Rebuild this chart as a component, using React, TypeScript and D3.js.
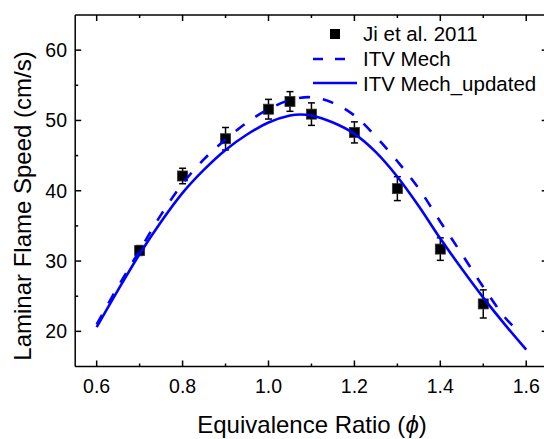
import React from "react";
import * as d3 from "d3";

// Experimental data (Ji et al. 2011)
const expPhi = [0.7, 0.8, 0.9, 1.0, 1.05, 1.1, 1.2, 1.3, 1.4, 1.5];
const expSpeed = [31.5, 42.1, 47.4, 51.6, 52.7, 50.9, 48.3, 40.3, 31.7, 23.9];
const expErr = [0.7, 1.1, 1.6, 1.4, 1.4, 1.6, 1.5, 1.7, 1.6, 2.0];

// ITV Mech (dashed)
const mechPhi = [0.6, 0.65, 0.7, 0.75, 0.8, 0.85, 0.9, 0.95, 1.0, 1.05, 1.1, 1.15, 1.2, 1.25, 1.3, 1.35, 1.4, 1.45, 1.5, 1.55, 1.575];
const mechSpeed = [21.0, 26.4, 31.5, 36.6, 41.0, 44.5, 47.3, 49.7, 51.6, 52.9, 53.3, 52.5, 50.7, 47.7, 44.2, 40.3, 35.6, 31.0, 26.3, 22.0, 20.4];

// ITV Mech_updated (solid)
const updPhi = [0.6, 0.65, 0.7, 0.75, 0.8, 0.85, 0.9, 0.95, 1.0, 1.05, 1.075, 1.1, 1.15, 1.2, 1.25, 1.3, 1.35, 1.4, 1.45, 1.5, 1.55, 1.6];
const updSpeed = [20.6, 25.9, 31.0, 35.6, 39.7, 43.0, 45.8, 48.0, 49.7, 50.7, 50.85, 50.7, 49.7, 48.1, 45.5, 42.0, 37.8, 33.2, 28.9, 24.8, 21.0, 17.4];

const xTicks = [0.6, 0.8, 1.0, 1.2, 1.4, 1.6];
const xMinor = [0.7, 0.9, 1.1, 1.3, 1.5];
const yTicks = [20, 30, 40, 50, 60];
const yMinor = [25, 35, 45, 55];

const legendLabels = ["Ji et al. 2011", "ITV Mech", "ITV Mech_updated"];

const W = 544;
const H = 439;
const FONT = "'Liberation Sans', Arial, Helvetica, sans-serif";
const BLUE = "#0000ff";

export default function App() {
  const x = d3.scaleLinear().domain([0.55, 1.65]).range([75.2, 547.7]);
  const y = d3.scaleLinear().domain([15, 65]).range([366.5, 15]);
  const [x0, x1] = x.range();
  const [y0, y1] = y.range();

  const line = d3
    .line<[number, number]>()
    .x((d) => x(d[0]))
    .y((d) => y(d[1]))
    .curve(d3.curveCatmullRom.alpha(0.5));

  const mechPath = line(mechPhi.map((p, i) => [p, mechSpeed[i]]) as [number, number][]) || "";
  const updPath = line(updPhi.map((p, i) => [p, updSpeed[i]]) as [number, number][]) || "";

  const major = 6;
  const minor = 3;
  const ms = 10;
  const cap = 3.5;

  return (
    <svg
      width={W}
      height={H}
      style={{ position: "absolute", left: 0, top: 0, background: "#fff" }}
      fontFamily={FONT}
    >
      <rect x={0} y={0} width={W} height={H} fill="#fff" />
      {/* data points with error bars */}
      <g>
        {expPhi.map((p, i) => {
          const cx = x(p);
          const cy = y(expSpeed[i]);
          const ty = y(expSpeed[i] + expErr[i]);
          const by = y(expSpeed[i] - expErr[i]);
          return (
            <g key={i} stroke="#000" strokeWidth={1.5}>
              <line x1={cx} x2={cx} y1={ty} y2={by} />
              <line x1={cx - cap} x2={cx + cap} y1={ty} y2={ty} />
              <line x1={cx - cap} x2={cx + cap} y1={by} y2={by} />
              <rect x={cx - ms / 2} y={cy - ms / 2} width={ms} height={ms} fill="#000" stroke="#333" strokeWidth={0.8} />
            </g>
          );
        })}
      </g>
      {/* curves */}
      <path d={mechPath} fill="none" stroke={BLUE} strokeWidth={2.6} strokeDasharray="11,13" />
      <path d={updPath} fill="none" stroke={BLUE} strokeWidth={2.6} />

      {/* axes frame */}
      <g stroke="#000" strokeWidth={1.5} fill="none">
        <line x1={x0} x2={x1} y1={y0} y2={y0} />
        <line x1={x0} x2={x1} y1={y1} y2={y1} />
        <line x1={x0} x2={x0} y1={y0} y2={y1} />
        <line x1={x1} x2={x1} y1={y0} y2={y1} />
        {xTicks.map((t) => (
          <g key={"xt" + t}>
            <line x1={x(t)} x2={x(t)} y1={y0} y2={y0 - major} />
            <line x1={x(t)} x2={x(t)} y1={y1} y2={y1 + major} />
          </g>
        ))}
        {xMinor.map((t) => (
          <g key={"xm" + t}>
            <line x1={x(t)} x2={x(t)} y1={y0} y2={y0 - minor} />
            <line x1={x(t)} x2={x(t)} y1={y1} y2={y1 + minor} />
          </g>
        ))}
        {yTicks.map((t) => (
          <g key={"yt" + t}>
            <line x1={x0} x2={x0 + major} y1={y(t)} y2={y(t)} />
            <line x1={x1} x2={x1 - major} y1={y(t)} y2={y(t)} />
          </g>
        ))}
        {yMinor.map((t) => (
          <g key={"ym" + t}>
            <line x1={x0} x2={x0 + minor} y1={y(t)} y2={y(t)} />
            <line x1={x1} x2={x1 - minor} y1={y(t)} y2={y(t)} />
          </g>
        ))}
      </g>

      {/* tick labels */}
      <g fontSize={19.5} fill="#000">
        {xTicks.map((t) => (
          <text key={"xl" + t} x={x(t)} y={393} textAnchor="middle">
            {t.toFixed(1)}
          </text>
        ))}
        {yTicks.map((t) => (
          <text key={"yl" + t} x={67} y={y(t)} textAnchor="end" dominantBaseline="central">
            {t}
          </text>
        ))}
      </g>

      {/* axis titles */}
      <text x={312} y={433} textAnchor="middle" fontSize={24} fill="#000">
        Equivalence Ratio (<tspan fontStyle="italic">ϕ</tspan>)
      </text>
      <text
        transform={`translate(31,206) rotate(-90)`}
        textAnchor="middle"
        fontSize={24}
        fill="#000"
      >
        Laminar Flame Speed (cm/s)
      </text>

      {/* legend */}
      <g fontSize={20.5} fill="#000">
        <rect x={335 - ms / 2} y={34 - ms / 2} width={ms} height={ms} fill="#000" />
        <text x={363} y={41}>{legendLabels[0]}</text>
        <line x1={313} x2={357} y1={59} y2={59} stroke={BLUE} strokeWidth={2.6} strokeDasharray="10,12" />
        <text x={363} y={66}>{legendLabels[1]}</text>
        <line x1={313} x2={357} y1={83} y2={83} stroke={BLUE} strokeWidth={2.6} />
        <text x={363} y={90.5}>{legendLabels[2]}</text>
      </g>
    </svg>
  );
}
